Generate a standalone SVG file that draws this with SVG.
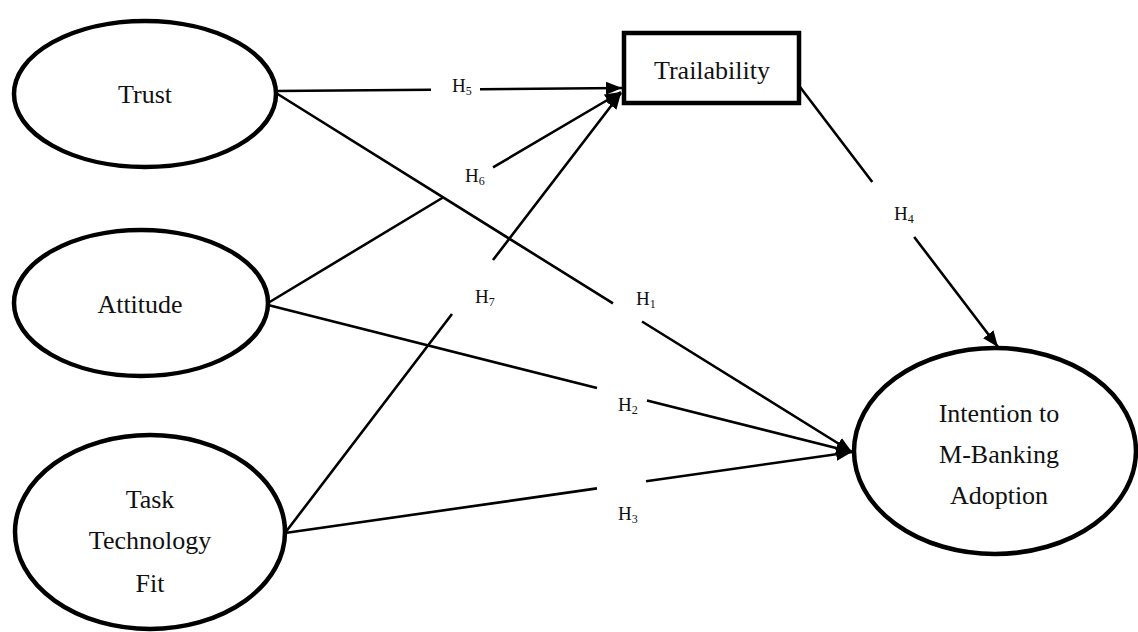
<svg xmlns="http://www.w3.org/2000/svg" width="1138" height="632" viewBox="0 0 1138 632">
<style>
.node{fill:#fff;stroke:#000;stroke-width:4.5}
.t{font-family:"Liberation Serif","Times New Roman",serif;font-size:26px;fill:#111;text-anchor:middle}
.h{font-family:"Liberation Serif","Times New Roman",serif;font-size:19px;fill:#111}
.s{font-size:12px}
.c{fill:none;stroke:#000;stroke-width:2.6}
</style>
<defs>
<marker id="arr" markerUnits="userSpaceOnUse" markerWidth="18" markerHeight="14" refX="16" refY="6.5" orient="auto" viewBox="0 0 18 14">
<path d="M0,0 L16,6.5 L0,13 z" fill="#000"/>
</marker>
</defs>
<rect width="1138" height="632" fill="#fff"/>
<g id="connectors">
<path class="c" d="M276,91 L431,89.7 M480,89.2 L622,88" marker-end="url(#arr)"/>
<path class="c" d="M268,303 L443,197.5 M493,167.4 L621,92" marker-end="url(#arr)"/>
<path class="c" d="M285,533 L452,314 M493,260 L621,93" marker-end="url(#arr)"/>
<path class="c" d="M276,93 L613,303.4 M642,321.5 L852,452" marker-end="url(#arr)"/>
<path class="c" d="M268,305 L597,388 M647,400.5 L852,452" marker-end="url(#arr)"/>
<path class="c" d="M285,533 L597,488.4 M646,481.3 L852,452" marker-end="url(#arr)"/>
<path class="c" d="M800,87 L872.3,182 M914.2,237 L998,347" marker-end="url(#arr)"/>
</g>
<g id="labels">
<text class="h" x="452" y="92">H<tspan class="s" dy="3">5</tspan></text>
<text class="h" x="465" y="182">H<tspan class="s" dy="3">6</tspan></text>
<text class="h" x="475" y="303">H<tspan class="s" dy="3">7</tspan></text>
<text class="h" x="636" y="305">H<tspan class="s" dy="3">1</tspan></text>
<text class="h" x="618" y="411">H<tspan class="s" dy="3">2</tspan></text>
<text class="h" x="618" y="520">H<tspan class="s" dy="3">3</tspan></text>
<text class="h" x="894" y="220">H<tspan class="s" dy="3">4</tspan></text>
</g>
<g id="trust">
<ellipse class="node" cx="145" cy="94" rx="131" ry="73"/>
<text class="t" x="145" y="103">Trust</text>
</g>
<g id="attitude">
<ellipse class="node" cx="141" cy="303" rx="127" ry="73"/>
<text class="t" x="140" y="313">Attitude</text>
</g>
<g id="ttf">
<ellipse class="node" cx="150" cy="532" rx="135" ry="97"/>
<text class="t" x="150" y="508">Task</text>
<text class="t" x="150" y="549">Technology</text>
<text class="t" x="150" y="592">Fit</text>
</g>
<g id="trailability">
<rect class="node" x="624" y="33" width="175" height="70" stroke-width="5"/>
<text class="t" x="712" y="79">Trailability</text>
</g>
<g id="intention">
<ellipse class="node" cx="995" cy="451" rx="141" ry="103"/>
<text class="t" x="999" y="422">Intention to</text>
<text class="t" x="999" y="463">M-Banking</text>
<text class="t" x="999" y="504">Adoption</text>
</g>
</svg>
